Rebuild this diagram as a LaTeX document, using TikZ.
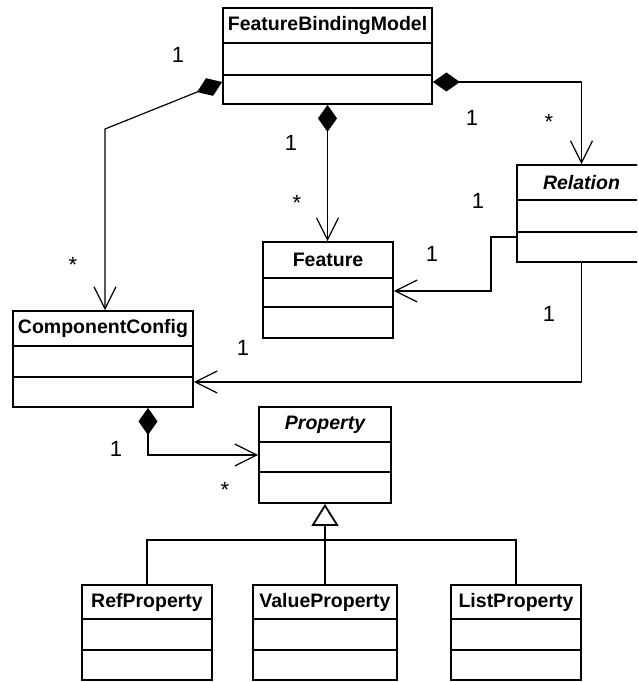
\documentclass[tikz,border=0pt]{standalone}
\usepackage{fontspec}
\setmainfont{Liberation Sans}
\usetikzlibrary{arrows.meta,fit}

\tikzset{
  classbox/.style={draw, line width=1.8pt, inner sep=0pt},
  compline/.style={line width=1.8pt},
  classtitle/.style={font=\fontsize{19.5}{21}\selectfont\bfseries, inner sep=0pt},
  openhead/.tip={Straight Barb[length=22pt,width=22pt,line width=1.2pt]},
  assoc/.style={line width=1.2pt, -openhead},
  comp/.style={line width=1.2pt, {Diamond[length=27pt,width=19pt,fill=black]}-openhead},
  gen/.style={line width=1.8pt},
  mult/.style={font=\fontsize{22}{24}\selectfont, anchor=base, inner sep=0pt},
}

% #1 name, #2 left, #3 top, #4 right, #5 first separator, #6 second separator, #7 bottom, #8 title
\newcommand{\umlclass}[8]{%
  \node[classbox, fit={(#2,#3) (#4,#7)}] (#1) {};
  \draw[compline] (#2,#5) -- (#4,#5) (#2,#6) -- (#4,#6);
  \node[classtitle] (#1-title) at ({(#2+#4)/2},{(#3+#5)/2}) {#8};
}

\begin{document}
\begin{tikzpicture}[x=1pt,y=-1pt]
  \useasboundingbox (0,0) rectangle (637,682);
  \clip (0,0) rectangle (637,682);

  % classes
  \umlclass{fbm}{223}{8}{432}{43}{75}{104}{FeatureBindingModel}
  \umlclass{feature}{263}{242}{393}{278}{307}{338}{Feature}
  \umlclass{relation}{517}{165}{646}{200}{232}{262}{\itshape Relation}
  \umlclass{cc}{13}{311}{193}{346}{377}{407}{ComponentConfig}
  \umlclass{property}{259}{407}{391}{442}{472}{503}{\itshape Property}
  \umlclass{ref}{82}{585}{212}{619}{650}{680}{RefProperty}
  \umlclass{value}{253}{585}{397}{619}{650}{680}{ValueProperty}
  \umlclass{list}{451}{585}{581}{619}{650}{680}{ListProperty}

  % bend points
  \coordinate (ccbend) at (105,129);
  \coordinate (relrow) at (0,82);
  \coordinate (featbend) at (491,237);
  \coordinate (featrow) at (0,291);
  \coordinate (ccrow) at (0,382);
  \coordinate (propbend) at (148,455);
  \coordinate (branch) at (325,540);

  % compositions
  \draw[comp] (fbm.west |- relrow) -- (ccbend) -- (ccbend |- cc.north);
  \draw[comp] (fbm.south) -- (fbm.south |- feature.north);
  \draw[comp] (fbm.east |- relrow) -| (relation.north);
  \draw[comp] (propbend |- cc.south) |- (property.west |- propbend);

  % associations
  \draw[assoc] (relation.west |- featbend) -- (featbend) |- (feature.east |- featrow);
  \draw[assoc] (relation.south) |- (cc.east |- ccrow);

  % generalization
  \draw[gen] (value.north) -- (branch);
  \draw[gen, -{Triangle[open,length=22pt,width=27pt,line width=1.8pt]}] (branch) -- (property.south);
  \draw[gen] (ref.north) |- (branch) -| (list.north);

  % multiplicities
  \node[mult] (m1) at (178,63) {1};
  \node[mult] (m2) at (73,272.5) {*};
  \node[mult] (m3) at (291,150) {1};
  \node[mult] (m4) at (297,210.5) {*};
  \node[mult] (m5) at (472,125) {1};
  \node[mult] (m6) at (549,129.5) {*};
  \node[mult] (m7) at (478,208) {1};
  \node[mult] (m8) at (432,261) {1};
  \node[mult] (m9) at (549,321) {1};
  \node[mult] (m10) at (243,355) {1};
  \node[mult] (m11) at (116,456) {1};
  \node[mult] (m12) at (225,497.5) {*};
\end{tikzpicture}
\end{document}
